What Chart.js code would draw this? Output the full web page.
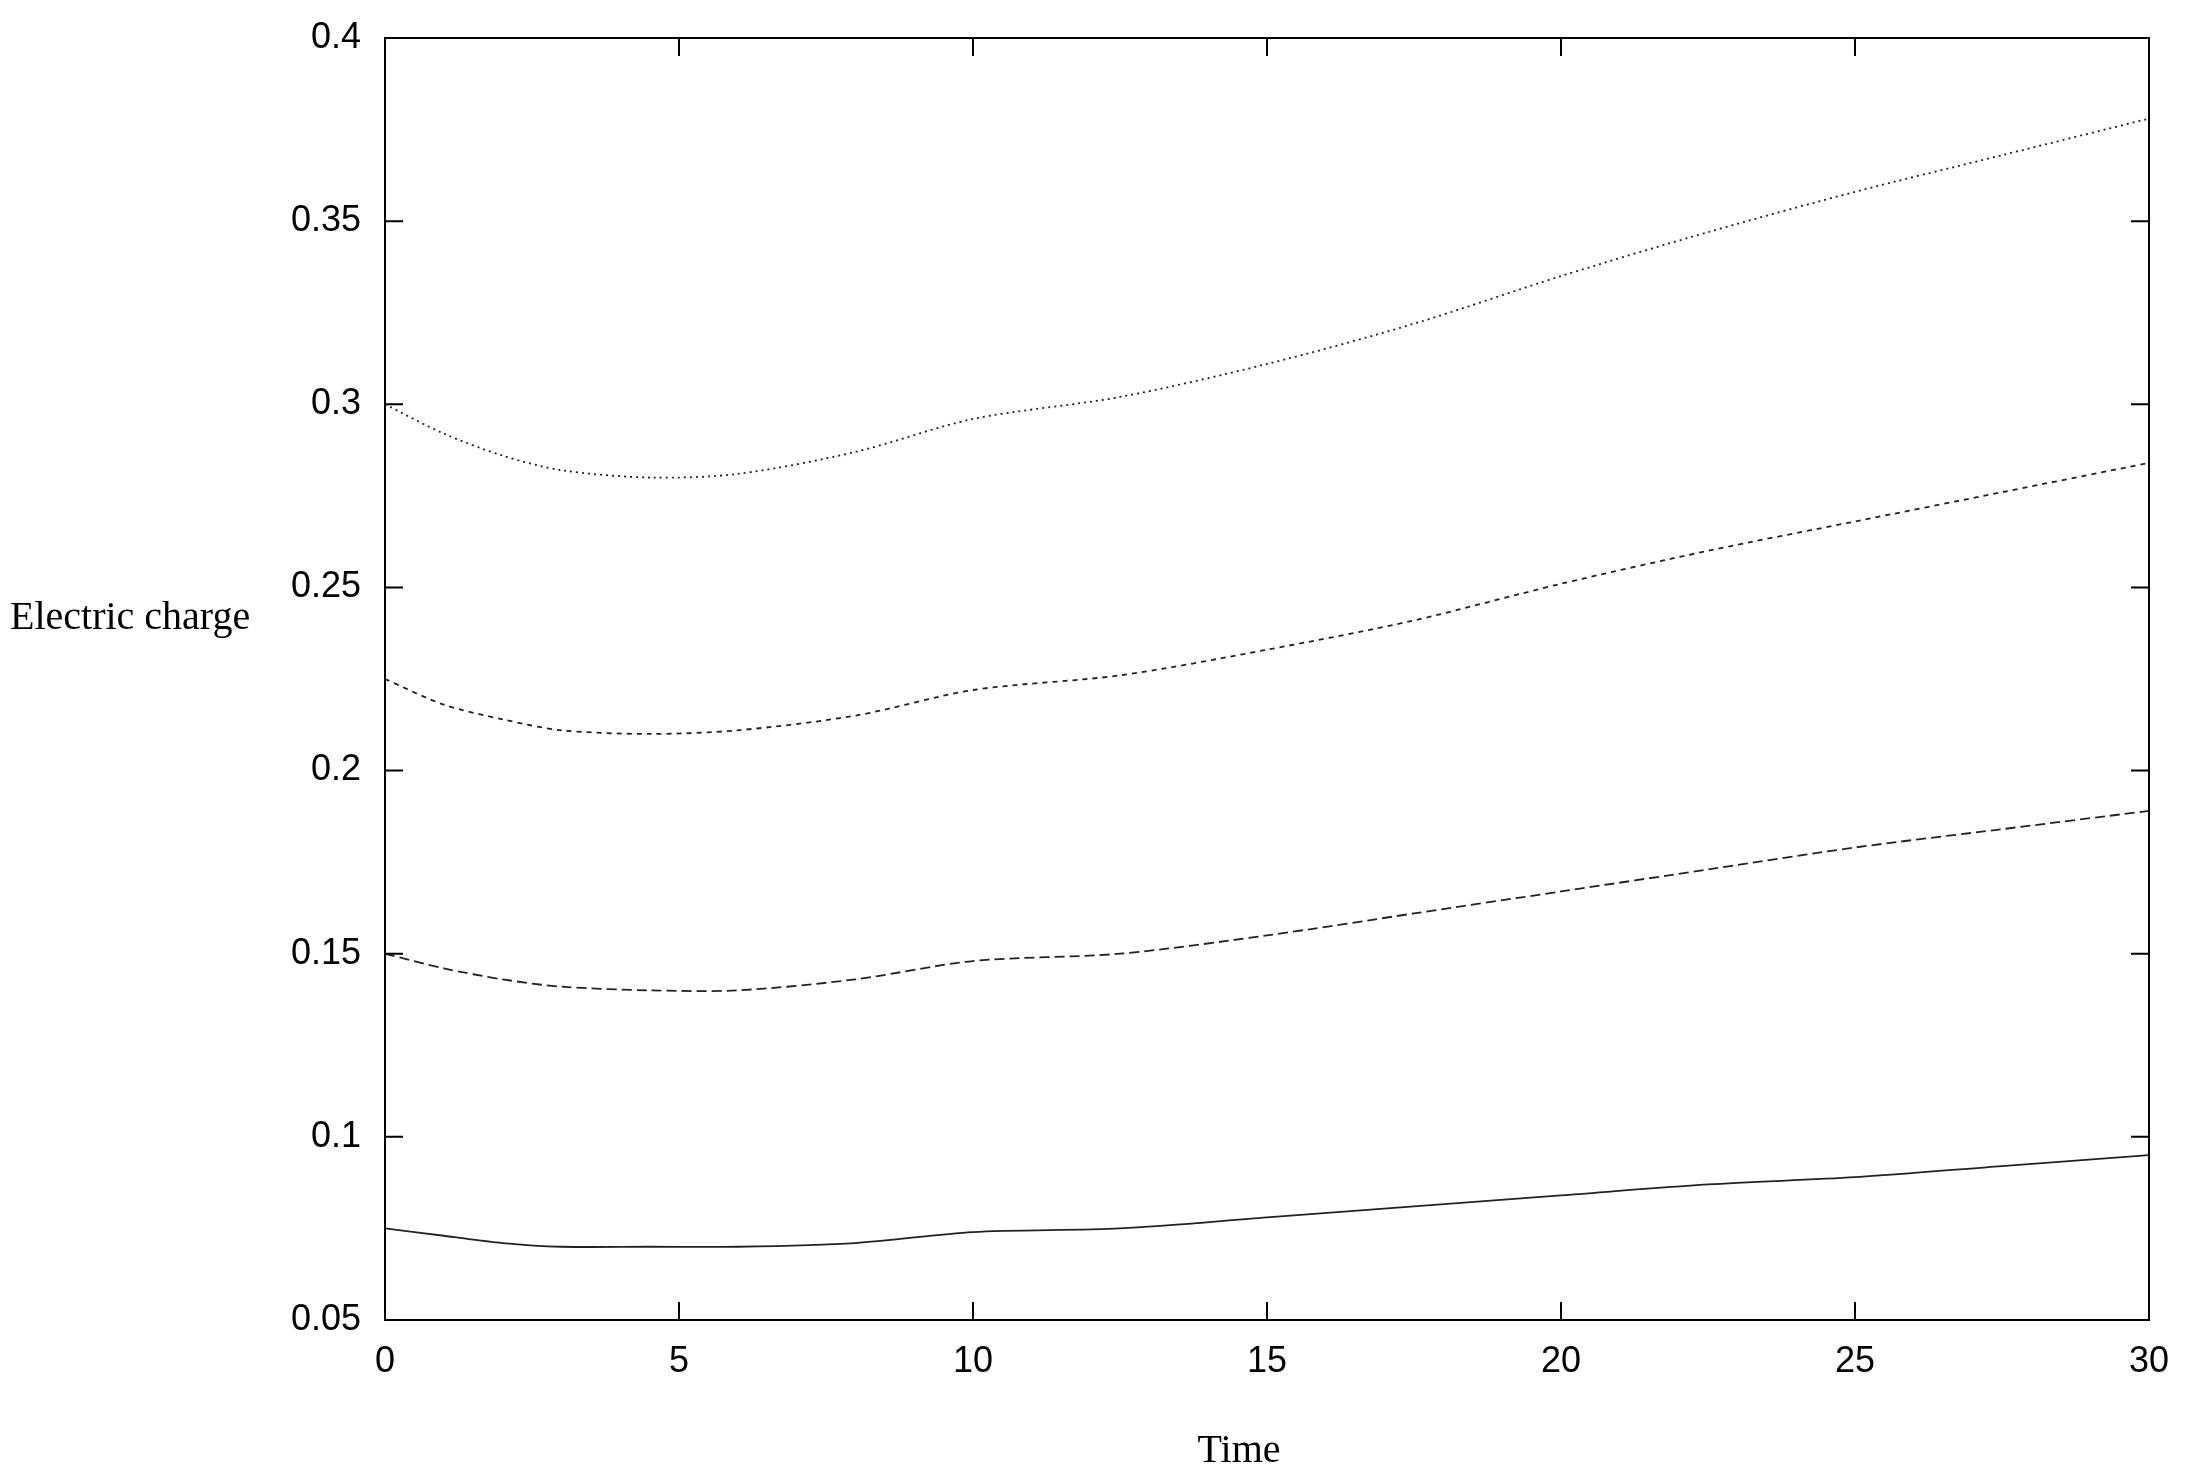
<!DOCTYPE html>
<html><head><meta charset="utf-8">
<script src="https://cdn.jsdelivr.net/npm/chart.js@4"></script>
<style>html,body{margin:0;padding:0;background:#fff}#w{width:2195px;height:1483px}</style>
</head><body><div id="w"><canvas id="c"></canvas></div>
<script>
const times = [0, 1, 2, 3, 4.5, 6, 8, 10, 12.5, 15, 17.5, 20, 22.5, 25, 27.5, 30];
const series1 = [0.300, 0.292, 0.286, 0.282, 0.280, 0.281, 0.287, 0.296, 0.302, 0.311, 0.322, 0.335, 0.347, 0.358, 0.368, 0.378];
const series2 = [0.225, 0.218, 0.214, 0.211, 0.210, 0.211, 0.215, 0.222, 0.226, 0.233, 0.241, 0.251, 0.260, 0.268, 0.276, 0.284];
const series3 = [0.150, 0.146, 0.143, 0.141, 0.140, 0.140, 0.143, 0.148, 0.150, 0.155, 0.161, 0.167, 0.173, 0.179, 0.184, 0.189];
const series4 = [0.075, 0.073, 0.071, 0.070, 0.070, 0.070, 0.071, 0.074, 0.075, 0.078, 0.081, 0.084, 0.087, 0.089, 0.092, 0.095];
const xTicks = [0, 5, 10, 15, 20, 25, 30];
const yTicks = [0.05, 0.1, 0.15, 0.2, 0.25, 0.3, 0.35, 0.4];
const dashes = [[2,4],[5,5],[10,5],[]];
const all = [series1, series2, series3, series4];

const mk = (s,i)=>({data: times.map((t,j)=>({x:t,y:s[j]})), borderColor:'#222', borderWidth:1.8,
  borderDash:dashes[i], pointRadius:0, tension:0.3, fill:false});

const deco = {id:'deco', afterDraw(ch){
  const c=ch.ctx, a=ch.chartArea, xs=ch.scales.x, ys=ch.scales.y;
  c.save(); c.strokeStyle='#000'; c.lineWidth=2;
  c.strokeRect(a.left,a.top,a.right-a.left,a.bottom-a.top);
  c.beginPath();
  xTicks.forEach(v=>{const p=xs.getPixelForValue(v);c.moveTo(p,a.bottom);c.lineTo(p,a.bottom-18);c.moveTo(p,a.top);c.lineTo(p,a.top+18);});
  yTicks.forEach(v=>{const p=ys.getPixelForValue(v);c.moveTo(a.left,p);c.lineTo(a.left+18,p);c.moveTo(a.right,p);c.lineTo(a.right-18,p);});
  c.stroke();
  c.fillStyle='#000'; c.font='40px "Liberation Serif"'; c.textBaseline='middle';
  c.textAlign='left'; c.fillText('Electric charge',10,618);
  c.textAlign='center'; c.fillText('Time',(a.left+a.right)/2-28,1451);
  c.restore();
}};

new Chart(document.getElementById('c'),{type:'line',
 data:{datasets: all.map(mk)},
 options:{responsive:true,maintainAspectRatio:false,animation:false,
  layout:{padding:{top:38,right:46,left:0,bottom:0}},
  plugins:{legend:{display:false},tooltip:{enabled:false}},
  scales:{
   x:{type:'linear',min:0,max:30,grid:{display:false},border:{display:false},
      afterBuildTicks:s=>{s.ticks=xTicks.map(v=>({value:v}));},
      afterFit:s=>{s.height=163;},
      ticks:{font:{family:'Liberation Sans',size:36},color:'#000',padding:12}},
   y:{type:'linear',min:0.05,max:0.4,grid:{display:false},border:{display:false},
      afterBuildTicks:s=>{s.ticks=yTicks.map(v=>({value:v}));},
      afterFit:s=>{s.width=385;},
      ticks:{font:{family:'Liberation Sans',size:36},color:'#000',padding:16,
        callback:v=>String(+v.toFixed(2))}}
  }},
 plugins:[deco]});
</script></body></html>
